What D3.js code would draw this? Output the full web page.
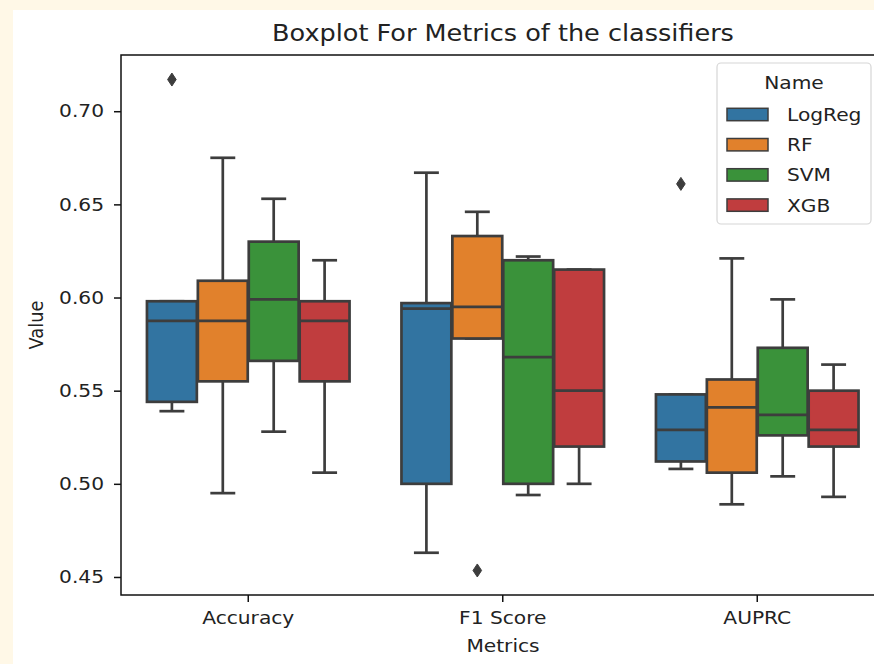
<!DOCTYPE html>
<html>
<head>
<meta charset="utf-8">
<script src="https://cdn.jsdelivr.net/npm/d3@7"></script>
<style>
  body { margin: 0; background: #fff8e7; }
  svg { display: block; font-family: "DejaVu Sans", sans-serif; }
</style>
</head>
<body>
<div id="chart"></div>
<script>
const metrics = ["Accuracy", "F1 Score", "AUPRC"];
const names = ["LogReg", "RF", "SVM", "XGB"];
const colors = ["#3274a1", "#e1812c", "#3a923a", "#c03d3e"];

// one row per metric, one value per classifier (LogReg, RF, SVM, XGB)
const whiskerLow = [
  [0.539, 0.495, 0.528, 0.506],
  [0.463, 0.578, 0.494, 0.500],
  [0.508, 0.489, 0.504, 0.493]
];
const q1 = [
  [0.544, 0.555, 0.566, 0.555],
  [0.500, 0.578, 0.500, 0.520],
  [0.512, 0.506, 0.526, 0.520]
];
const median = [
  [0.5875, 0.5875, 0.599, 0.5875],
  [0.594, 0.595, 0.568, 0.550],
  [0.529, 0.541, 0.537, 0.529]
];
const q3 = [
  [0.598, 0.609, 0.630, 0.598],
  [0.597, 0.633, 0.620, 0.615],
  [0.548, 0.556, 0.573, 0.550]
];
const whiskerHigh = [
  [0.598, 0.675, 0.653, 0.620],
  [0.667, 0.646, 0.622, 0.615],
  [0.548, 0.621, 0.599, 0.564]
];
const outliers = [
  { metric: "Accuracy", name: "LogReg", value: 0.717 },
  { metric: "F1 Score", name: "RF", value: 0.4535 },
  { metric: "AUPRC", name: "LogReg", value: 0.661 }
];
const yTicks = [0.45, 0.50, 0.55, 0.60, 0.65, 0.70];

const width = 874, height = 664;
const plotLeft = 121, plotTop = 55, plotBottom = 595, plotRight = 884.5; // right edge is cut off by the window
const sx = 1.135; // the reference text is a bit stretched horizontally
const gray = "#3d3d3d";
const lw = 2.7;

const svg = d3.select("#chart").append("svg")
  .attr("width", width)
  .attr("height", height);

svg.append("rect").attr("width", width).attr("height", height).attr("fill", "#fff8e7");
svg.append("rect").attr("x", 13).attr("y", 10)
  .attr("width", width - 13).attr("height", height - 10).attr("fill", "#ffffff");

const x0 = d3.scaleBand().domain(metrics).range([plotLeft, plotRight]);
const x1 = d3.scaleBand().domain(names)
  .range([0.1 * x0.bandwidth(), 0.9 * x0.bandwidth()]);

// matplotlib style autoscale: 5% margin around the data
const allVals = [...whiskerLow.flat(), ...whiskerHigh.flat(), ...outliers.map(d => d.value)];
const [lo, hi] = d3.extent(allVals);
const pad = (hi - lo) * 0.05;
const y = d3.scaleLinear().domain([lo - pad, hi + pad]).range([plotBottom, plotTop]);

// boxes
const plot = svg.append("g");
metrics.forEach((m, i) => {
  names.forEach((n, j) => {
    const cx = x0(m) + x1(n) + x1.bandwidth() / 2;
    const bw = x1.bandwidth() * 0.98;
    const g = plot.append("g");

    // whiskers + caps
    g.append("line")
      .attr("x1", cx).attr("x2", cx)
      .attr("y1", y(q3[i][j])).attr("y2", y(whiskerHigh[i][j]));
    g.append("line")
      .attr("x1", cx).attr("x2", cx)
      .attr("y1", y(q1[i][j])).attr("y2", y(whiskerLow[i][j]));
    g.append("line")
      .attr("x1", cx - bw / 4).attr("x2", cx + bw / 4)
      .attr("y1", y(whiskerHigh[i][j])).attr("y2", y(whiskerHigh[i][j]));
    g.append("line")
      .attr("x1", cx - bw / 4).attr("x2", cx + bw / 4)
      .attr("y1", y(whiskerLow[i][j])).attr("y2", y(whiskerLow[i][j]));

    g.append("rect")
      .attr("x", cx - bw / 2)
      .attr("y", y(q3[i][j]))
      .attr("width", bw)
      .attr("height", y(q1[i][j]) - y(q3[i][j]))
      .attr("fill", colors[j]);

    g.append("line")
      .attr("x1", cx - bw / 2).attr("x2", cx + bw / 2)
      .attr("y1", y(median[i][j])).attr("y2", y(median[i][j]));

    g.selectAll("line").attr("stroke", gray).attr("stroke-width", lw);
    g.select("rect").attr("stroke", gray).attr("stroke-width", lw);
  });
});

// outliers (thin diamonds)
plot.selectAll(".flier")
  .data(outliers)
  .join("path")
  .attr("class", "flier")
  .attr("d", "M0,-6.5L4.3,0L0,6.5L-4.3,0Z")
  .attr("transform", d => {
    const cx = x0(d.metric) + x1(d.name) + x1.bandwidth() / 2;
    return `translate(${cx},${y(d.value)})`;
  })
  .attr("fill", gray)
  .attr("stroke", gray)
  .attr("stroke-width", 1);

// frame
svg.append("rect")
  .attr("x", plotLeft).attr("y", plotTop)
  .attr("width", plotRight - plotLeft).attr("height", plotBottom - plotTop)
  .attr("fill", "none")
  .attr("stroke", "#111")
  .attr("stroke-width", 1.5);

// axes
const yAxis = svg.append("g")
  .attr("transform", `translate(${plotLeft},0)`)
  .call(d3.axisLeft(y).tickValues(yTicks).tickSize(7).tickPadding(10).tickFormat(d3.format(".2f")));
yAxis.select(".domain").remove();
yAxis.selectAll("line").attr("stroke", "#111").attr("stroke-width", 1.5);
yAxis.selectAll("text")
  .attr("x", -17 / sx)
  .attr("transform", `scale(${sx},1)`)
  .attr("fill", "#222")
  .style("font-size", "17.8px")
  .style("font-family", "DejaVu Sans");

const xAxis = svg.append("g")
  .attr("transform", `translate(0,${plotBottom})`)
  .call(d3.axisBottom(x0).tickSize(7).tickPadding(9));
xAxis.select(".domain").remove();
xAxis.selectAll("line").attr("stroke", "#111").attr("stroke-width", 1.5);
xAxis.selectAll("text")
  .attr("transform", `scale(${sx},1)`)
  .attr("fill", "#222")
  .style("font-size", "17.8px")
  .style("font-family", "DejaVu Sans");

// title and labels
svg.append("text")
  .attr("transform", `translate(503,41) scale(${sx},1)`)
  .attr("text-anchor", "middle")
  .attr("fill", "#222")
  .style("font-size", "22.5px")
  .text("Boxplot For Metrics of the classifiers");

svg.append("text")
  .attr("transform", `translate(503,652) scale(${sx},1)`)
  .attr("text-anchor", "middle")
  .attr("fill", "#222")
  .style("font-size", "17.8px")
  .text("Metrics");

svg.append("text")
  .attr("transform", `translate(43,325) scale(${sx},1) rotate(-90)`)
  .attr("text-anchor", "middle")
  .attr("fill", "#222")
  .style("font-size", "17.8px")
  .text("Value");

// legend
const legend = svg.append("g");
legend.append("rect")
  .attr("x", 717).attr("y", 63)
  .attr("width", 154).attr("height", 161)
  .attr("rx", 4)
  .attr("fill", "#fff").attr("fill-opacity", 0.8)
  .attr("stroke", "#d6d6d6").attr("stroke-width", 1.2);
legend.append("text")
  .attr("transform", `translate(794,89) scale(${sx},1)`)
  .attr("text-anchor", "middle")
  .attr("fill", "#222")
  .style("font-size", "17.8px")
  .text("Name");
names.forEach((n, j) => {
  const cy = 114.5 + j * 30.2;
  legend.append("rect")
    .attr("x", 727).attr("y", cy - 6.2)
    .attr("width", 41).attr("height", 12.4)
    .attr("fill", colors[j])
    .attr("stroke", gray).attr("stroke-width", 1.5);
  legend.append("text")
    .attr("transform", `translate(787,${cy + 6.5}) scale(${sx},1)`)
    .attr("fill", "#222")
    .style("font-size", "17.8px")
    .text(n);
});
</script>
</body>
</html>
